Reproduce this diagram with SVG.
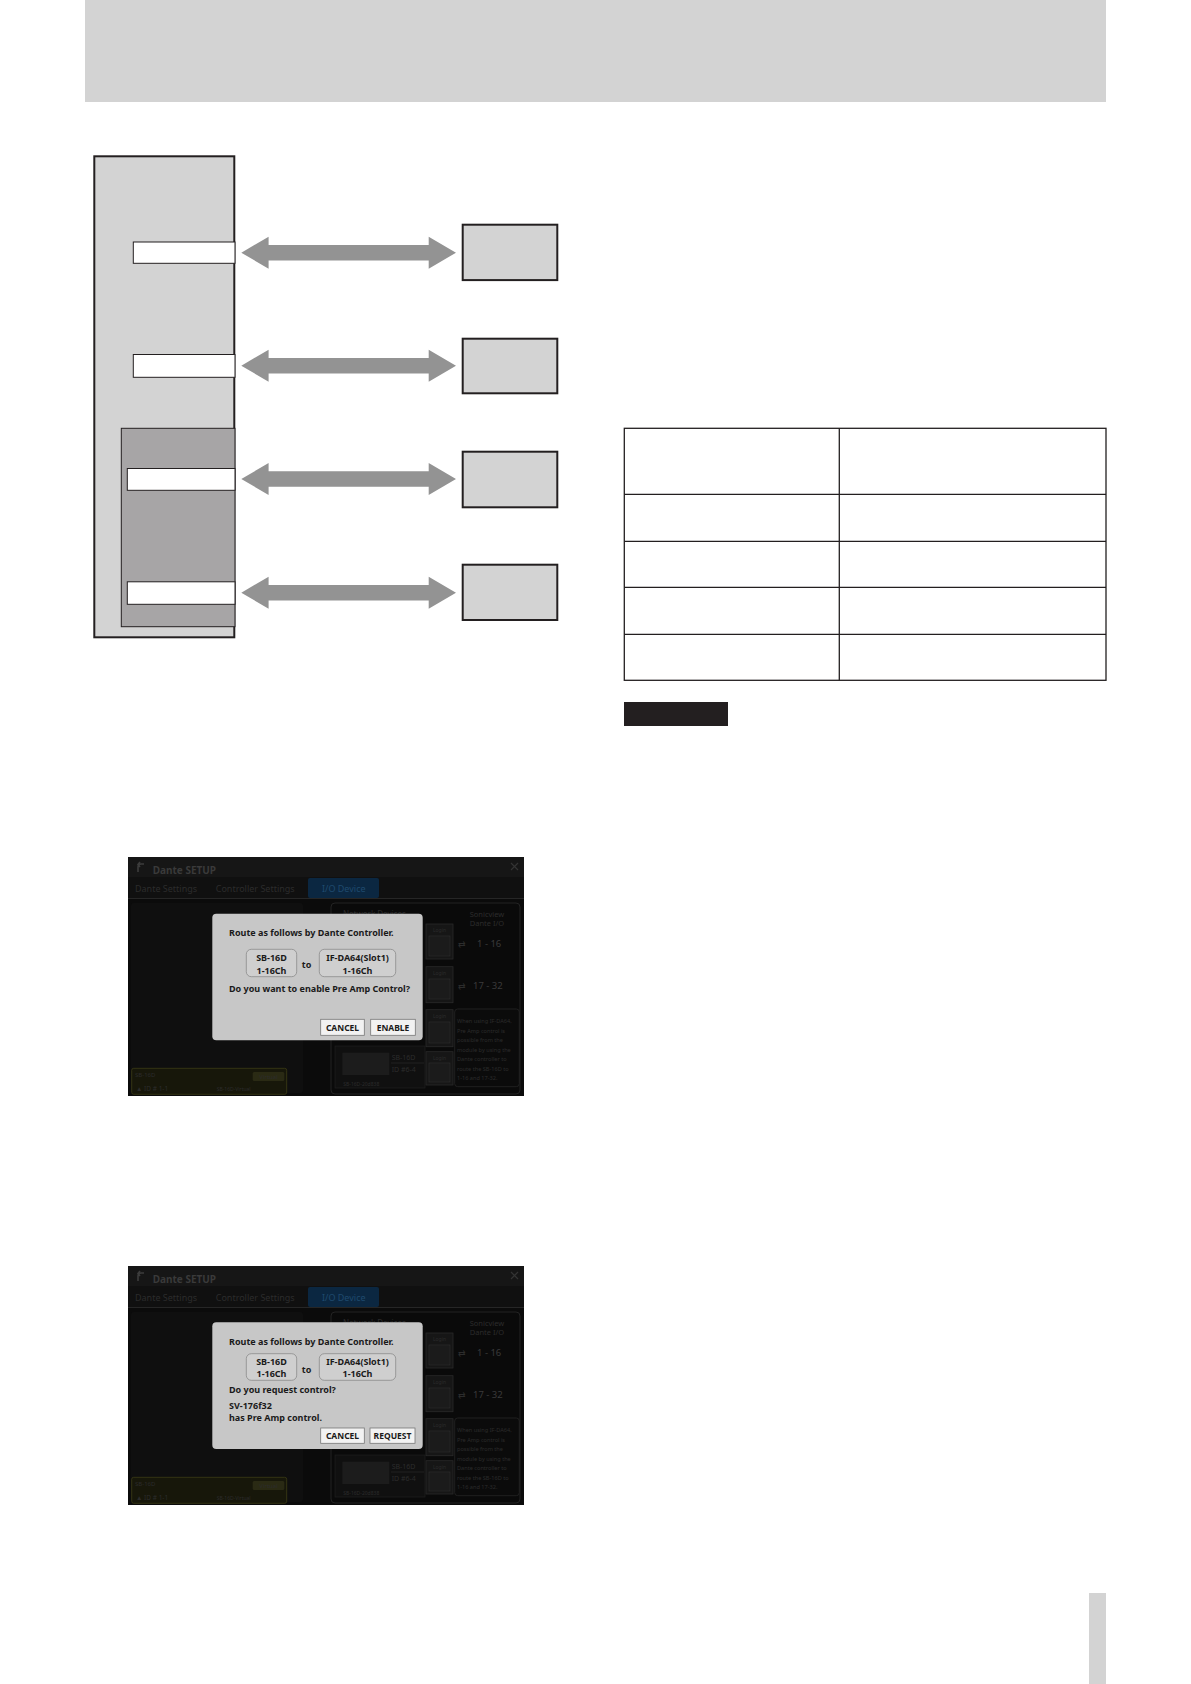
<svg xmlns="http://www.w3.org/2000/svg" width="1191" height="1684" viewBox="0 0 1191 1684">
<defs>
<style>
.pg{fill:#d3d3d3;}
.node{fill:#d3d3d3;stroke:#231f20;stroke-width:2;}
.bar{fill:#ffffff;stroke:#231f20;stroke-width:1;}
.arrow{fill:#939393;}
.tbl{fill:none;stroke:#231f20;stroke-width:1.3;}
.dlg{font-family:"Noto Sans","Open Sans",sans-serif;font-weight:bold;font-size:9px;fill:#1a1a1a;}
.dlgc{font-family:"Noto Sans","Open Sans",sans-serif;font-weight:bold;font-size:9px;fill:#1a1a1a;text-anchor:middle;}
.btn{font-family:"Noto Sans","Open Sans",sans-serif;font-weight:bold;font-size:8.5px;fill:#1a1a1a;text-anchor:middle;}
.dim{font-family:"Noto Sans","Open Sans",sans-serif;fill:#3a3a3a;}
.dim2{font-family:"Noto Sans","Open Sans",sans-serif;fill:#2c2c2c;}
.chip{fill:#cfcfcf;stroke:#8a8a8a;stroke-width:0.8;}
.bt{fill:#f2f2f2;stroke:#777;stroke-width:0.8;}
.login{fill:#161616;stroke:#2a2a2a;stroke-width:0.8;}
</style>
<g id="ui-bg">
<rect x="0" y="0" width="396" height="239" fill="#0b0b0b"/>
<rect x="0" y="0" width="396" height="20" fill="#161616"/>
<rect x="0" y="20" width="396" height="21" fill="#101010"/>
<rect x="180" y="21" width="71" height="20" rx="2" fill="#0b2741"/>
<line x1="0" y1="41.5" x2="396" y2="41.5" stroke="#262626" stroke-width="1"/>
<path d="M10 15 V10 Q10 7 13 7 H16 M12 5 L10 7.5 L12 10" fill="none" stroke="#3c3c3c" stroke-width="1.6"/>
<text class="dim" x="24.7" y="16.7" font-size="10" font-weight="bold">Dante SETUP</text>
<path d="M383 6 L390 13 M390 6 L383 13" stroke="#333" stroke-width="1.2"/>
<text class="dim2" x="7" y="35" font-size="9">Dante Settings</text>
<text class="dim2" x="87.7" y="35" font-size="9">Controller Settings</text>
<text x="194" y="35" font-size="9" font-family="Noto Sans, sans-serif" fill="#1f4a6e">I/O Device</text>
<rect x="3" y="46" width="172" height="190" rx="3" fill="#0f0f0f"/>
<rect x="203" y="46" width="189" height="191" rx="4" fill="#0a0a0a" stroke="#232323" stroke-width="1"/>
<text class="dim2" x="215" y="60" font-size="8">Network Devices</text>
<text class="dim2" x="359" y="60" font-size="7.5" text-anchor="middle">Sonicview</text>
<text class="dim2" x="359" y="69" font-size="7.5" text-anchor="middle">Dante I/O</text>
<rect class="login" x="298" y="67" width="27" height="35"/>
<rect class="login" x="298" y="109.7" width="27" height="36"/>
<rect class="login" x="298" y="152.7" width="27" height="37"/>
<rect class="login" x="298" y="194.7" width="27" height="33.3"/>
<text class="dim2" x="311.5" y="75" font-size="5" text-anchor="middle">Login</text>
<text class="dim2" x="311.5" y="118" font-size="5" text-anchor="middle">Login</text>
<text class="dim2" x="311.5" y="161" font-size="5" text-anchor="middle">Login</text>
<text class="dim2" x="311.5" y="203" font-size="5" text-anchor="middle">Login</text>
<rect x="301" y="79" width="21" height="20" fill="#1b1b1b" stroke="#2e2e2e" stroke-width="0.6"/>
<rect x="301" y="122" width="21" height="20" fill="#1b1b1b" stroke="#2e2e2e" stroke-width="0.6"/>
<rect x="301" y="165" width="21" height="21" fill="#1b1b1b" stroke="#2e2e2e" stroke-width="0.6"/>
<rect x="301" y="206" width="21" height="19" fill="#1b1b1b" stroke="#2e2e2e" stroke-width="0.6"/>
<text class="dim2" x="330" y="90" font-size="9">⇄</text>
<text class="dim" x="349" y="90" font-size="9.5">1 - 16</text>
<text class="dim2" x="330" y="132" font-size="9">⇄</text>
<text class="dim" x="345" y="132" font-size="9.5">17 - 32</text>
<rect x="326.7" y="152" width="64.6" height="77.7" rx="3" fill="#0b0b0b" stroke="#262626" stroke-width="0.8"/>
<g class="dim2" font-size="5.6">
<text x="329" y="166">When using IF-DA64,</text>
<text x="329" y="175.6">Pre Amp control is</text>
<text x="329" y="185">possible from the</text>
<text x="329" y="194.5">module by using the</text>
<text x="329" y="204">Dante controller to</text>
<text x="329" y="213.5">route the SB-16D to</text>
<text x="329" y="223">1-16 and 17-32.</text>
</g>
<rect x="207" y="189" width="90" height="42" fill="#101010" stroke="#222" stroke-width="0.6"/>
<rect x="214.3" y="195.7" width="47" height="22.3" fill="#1c1c1c"/>
<text class="dim2" x="263.7" y="203" font-size="7">SB-16D</text>
<line x1="263" y1="206" x2="296" y2="206" stroke="#2e2e2e" stroke-width="0.6"/>
<text class="dim2" x="263.7" y="215" font-size="7">ID #6-4</text>
<text class="dim2" x="215.3" y="229" font-size="5">SB-16D-20d838</text>
<rect x="3.7" y="211.3" width="155" height="26" rx="2" fill="#17170a" stroke="#3c3c16" stroke-width="0.8"/>
<text class="dim2" x="7" y="220.3" font-size="6" fill="#3a3a22">SB-16D</text>
<rect x="124.7" y="215" width="31.6" height="9" rx="1.5" fill="#2a2a14"/>
<text class="dim2" x="140.5" y="222" font-size="6" text-anchor="middle">Virtual</text>
<text class="dim2" x="8" y="234" font-size="6.5">▲ ID # 1-1</text>
<text class="dim2" x="88.7" y="234" font-size="5">SB-16D-Virtual</text>
</g>
</defs>

<rect id="page-bg" x="0" y="0" width="1191" height="1684" fill="#ffffff"/>
<rect id="header" class="pg" x="85" y="0" width="1021" height="102"/>

<g id="console">
<rect class="node" x="94.3" y="156.3" width="140" height="481"/>
</g>
<g id="inner-block">
<rect x="121.3" y="428.3" width="113.7" height="198.4" fill="#a7a5a6" stroke="#231f20" stroke-width="1"/>
</g>
<g id="port-1"><rect class="bar" x="133.3" y="242" width="101.7" height="21.3"/></g>
<g id="port-2"><rect class="bar" x="133.3" y="354.5" width="101.7" height="22.8"/></g>
<g id="port-3"><rect class="bar" x="127.3" y="468.5" width="107.7" height="21.8"/></g>
<g id="port-4"><rect class="bar" x="127.3" y="581.8" width="107.7" height="22.5"/></g>

<g id="device-1"><rect class="node" x="462.7" y="224.7" width="94.6" height="55.4"/></g>
<g id="device-2"><rect class="node" x="462.7" y="338.7" width="94.6" height="54.6"/></g>
<g id="device-3"><rect class="node" x="462.7" y="451.7" width="94.6" height="55.6"/></g>
<g id="device-4"><rect class="node" x="462.7" y="564.7" width="94.6" height="55.3"/></g>

<g id="connectors">
<polygon class="arrow" points="241.3,252.7 268.6,236.7 268.6,244.9 428.7,244.9 428.7,236.7 456,252.7 428.7,268.7 428.7,260.5 268.6,260.5 268.6,268.7"/>
<polygon class="arrow" points="241.3,365.7 268.6,349.7 268.6,357.9 428.7,357.9 428.7,349.7 456,365.7 428.7,381.7 428.7,373.5 268.6,373.5 268.6,381.7"/>
<polygon class="arrow" points="241.3,479 268.6,463 268.6,471.2 428.7,471.2 428.7,463 456,479 428.7,495 428.7,486.8 268.6,486.8 268.6,495"/>
<polygon class="arrow" points="241.3,592.7 268.6,576.7 268.6,584.9 428.7,584.9 428.7,576.7 456,592.7 428.7,608.7 428.7,600.5 268.6,600.5 268.6,608.7"/>
</g>

<g id="table">
<rect class="tbl" x="624.3" y="428.3" width="481.7" height="252"/>
<line class="tbl" x1="839.3" y1="428.3" x2="839.3" y2="680.3"/>
<line class="tbl" x1="624.3" y1="494.3" x2="1106" y2="494.3"/>
<line class="tbl" x1="624.3" y1="541.3" x2="1106" y2="541.3"/>
<line class="tbl" x1="624.3" y1="587.3" x2="1106" y2="587.3"/>
<line class="tbl" x1="624.3" y1="634.3" x2="1106" y2="634.3"/>
</g>

<rect id="label-black" x="624" y="702" width="104" height="24" fill="#231f20"/>

<g id="screenshot-1" transform="translate(128,857)">
<use href="#ui-bg"/>
<rect x="84.3" y="56.7" width="210.4" height="126.6" rx="4" fill="#c7c7c7"/>
<text class="dlg" x="101" y="79">Route as follows by Dante Controller.</text>
<rect class="chip" x="118.3" y="92.3" width="50.4" height="27.4" rx="5"/>
<text class="dlgc" x="143.5" y="104">SB-16D</text>
<text class="dlgc" x="143.5" y="116.7">1-16Ch</text>
<text class="dlgc" x="178.5" y="110.5">to</text>
<rect class="chip" x="191.3" y="92.3" width="76.4" height="27.4" rx="5"/>
<text class="dlgc" x="229.5" y="104">IF-DA64(Slot1)</text>
<text class="dlgc" x="229.5" y="116.7">1-16Ch</text>
<text class="dlg" x="101" y="135.3">Do you want to enable Pre Amp Control?</text>
<rect class="bt" x="192.7" y="162.3" width="43.6" height="16"/>
<text class="btn" x="214.5" y="173.5">CANCEL</text>
<rect class="bt" x="242.7" y="162.3" width="44.6" height="16"/>
<text class="btn" x="265" y="173.5">ENABLE</text>
</g>

<g id="screenshot-2" transform="translate(128,1266)">
<use href="#ui-bg"/>
<rect x="84.3" y="56.3" width="210.4" height="126.7" rx="4" fill="#c7c7c7"/>
<text class="dlg" x="101" y="78.7">Route as follows by Dante Controller.</text>
<rect class="chip" x="118.3" y="87.7" width="50.4" height="26.6" rx="5"/>
<text class="dlgc" x="143.5" y="99">SB-16D</text>
<text class="dlgc" x="143.5" y="111">1-16Ch</text>
<text class="dlgc" x="178.5" y="107">to</text>
<rect class="chip" x="191.3" y="87.7" width="76.4" height="26.6" rx="5"/>
<text class="dlgc" x="229.5" y="99">IF-DA64(Slot1)</text>
<text class="dlgc" x="229.5" y="111">1-16Ch</text>
<text class="dlg" x="101" y="127.3">Do you request control?</text>
<text class="dlg" x="101" y="142.7">SV-176f32</text>
<text class="dlg" x="101" y="154.7">has Pre Amp control.</text>
<rect class="bt" x="192.7" y="162" width="43.6" height="15.3"/>
<text class="btn" x="214.5" y="173">CANCEL</text>
<rect class="bt" x="242" y="162" width="45" height="15.3"/>
<text class="btn" x="264.5" y="173">REQUEST</text>
</g>

<rect id="side-tab" class="pg" x="1089" y="1593" width="17" height="91"/>
</svg>
